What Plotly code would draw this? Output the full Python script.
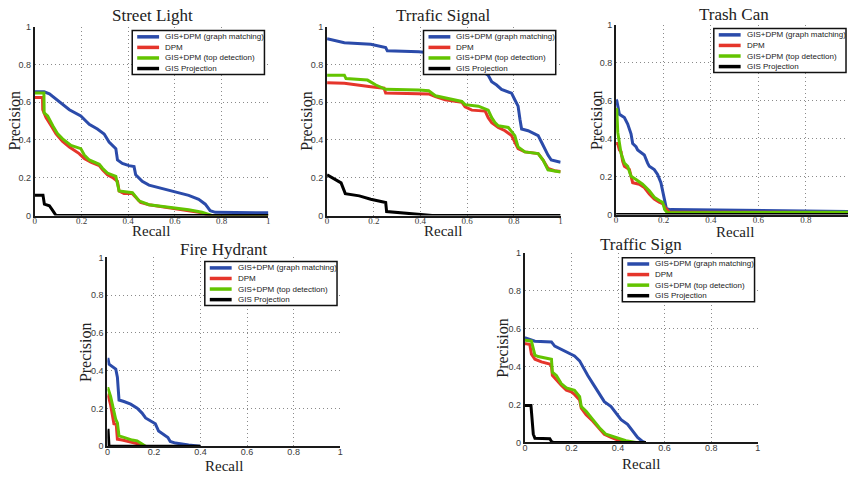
import plotly.graph_objects as go

W, H = 850, 480

# ---------------- data (recall, precision) ----------------
series_names = ["GIS+DPM (graph matching)", "DPM", "GIS+DPM (top detection)", "GIS Projection"]
series_colors = ["#2B4BAA", "#E5352B", "#63C400", "#000000"]
titles = ["Street Light", "Trrafic Signal", "Trash Can", "Fire Hydrant", "Traffic Sign"]
tick_vals = [0, 0.2, 0.4, 0.6, 0.8, 1]
tick_text = ["0", "0.2", "0.4", "0.6", "0.8", "1"]

# Street Light
sl_gm_x = [0, 0.04, 0.0625, 0.105, 0.148, 0.197, 0.233, 0.268, 0.297, 0.318, 0.347, 0.354, 0.375, 0.403, 0.425, 0.432, 0.46, 0.489, 0.531, 0.574, 0.616, 0.659, 0.702, 0.73, 0.751, 0.773, 0.858, 1.0]
sl_gm_y = [0.655, 0.655, 0.644, 0.604, 0.56, 0.527, 0.483, 0.458, 0.432, 0.389, 0.354, 0.294, 0.276, 0.264, 0.259, 0.216, 0.181, 0.161, 0.147, 0.133, 0.121, 0.107, 0.086, 0.06, 0.026, 0.017, 0.016, 0.014]
sl_dpm_x = [0, 0.033, 0.034, 0.048, 0.07, 0.091, 0.119, 0.148, 0.19, 0.212, 0.24, 0.276, 0.29, 0.311, 0.332, 0.354, 0.361, 0.382, 0.418, 0.432, 0.453, 0.489, 0.545, 0.602, 0.659, 0.716, 0.744, 1.0]
sl_dpm_y = [0.625, 0.625, 0.56, 0.518, 0.475, 0.432, 0.392, 0.363, 0.328, 0.302, 0.282, 0.264, 0.242, 0.216, 0.202, 0.181, 0.13, 0.117, 0.116, 0.095, 0.069, 0.057, 0.047, 0.036, 0.026, 0.014, 0.0, 0.0]
sl_top_x = [0, 0.039, 0.04, 0.055, 0.077, 0.098, 0.119, 0.155, 0.197, 0.212, 0.233, 0.276, 0.29, 0.311, 0.347, 0.361, 0.418, 0.446, 0.489, 0.574, 0.659, 0.716, 0.758, 1.0]
sl_top_y = [0.648, 0.648, 0.544, 0.527, 0.475, 0.432, 0.406, 0.371, 0.354, 0.32, 0.294, 0.271, 0.25, 0.225, 0.207, 0.13, 0.121, 0.078, 0.057, 0.043, 0.031, 0.017, 0.0, 0.0]
sl_gis_x = [0, 0.035, 0.041, 0.0625, 0.077, 0.091, 1.0]
sl_gis_y = [0.107, 0.107, 0.06, 0.052, 0.026, 0.0, 0.0]

# Traffic Signal
ts_gm_x = [0, 0.074, 0.187, 0.223, 0.251, 0.258, 0.393, 0.45, 0.55, 0.62, 0.67, 0.69, 0.705, 0.726, 0.747, 0.79, 0.804, 0.818, 0.826, 0.833, 0.861, 0.904, 0.918, 0.932, 0.946, 0.96, 1.0]
ts_gm_y = [0.936, 0.915, 0.907, 0.895, 0.889, 0.872, 0.867, 0.86, 0.84, 0.8, 0.76, 0.743, 0.708, 0.691, 0.668, 0.648, 0.613, 0.579, 0.51, 0.458, 0.449, 0.423, 0.389, 0.354, 0.32, 0.294, 0.282]
ts_dpm_x = [0, 0.074, 0.187, 0.244, 0.251, 0.435, 0.464, 0.506, 0.577, 0.591, 0.62, 0.677, 0.69, 0.705, 0.733, 0.762, 0.79, 0.804, 0.818, 0.847, 0.904, 0.925, 0.946, 0.974, 1.0]
ts_dpm_y = [0.703, 0.70, 0.682, 0.674, 0.648, 0.644, 0.63, 0.613, 0.60, 0.575, 0.558, 0.553, 0.518, 0.492, 0.466, 0.449, 0.423, 0.389, 0.354, 0.337, 0.328, 0.294, 0.25, 0.237, 0.233]
ts_top_x = [0, 0.074, 0.081, 0.173, 0.209, 0.251, 0.393, 0.435, 0.464, 0.506, 0.577, 0.591, 0.648, 0.69, 0.705, 0.719, 0.733, 0.776, 0.804, 0.818, 0.847, 0.904, 0.925, 0.946, 1.0]
ts_top_y = [0.743, 0.743, 0.725, 0.717, 0.691, 0.668, 0.665, 0.661, 0.634, 0.622, 0.604, 0.587, 0.579, 0.558, 0.518, 0.492, 0.475, 0.466, 0.423, 0.363, 0.337, 0.328, 0.294, 0.242, 0.23]
ts_gis_x = [0, 0.024, 0.06, 0.078, 0.138, 0.187, 0.223, 0.251, 0.255, 0.322, 0.393, 0.45, 1.0]
ts_gis_y = [0.216, 0.199, 0.173, 0.116, 0.104, 0.086, 0.078, 0.069, 0.021, 0.014, 0.009, 0.0, 0.0]

# Trash Can
tc_gm_x = [0, 0.003, 0.014, 0.035, 0.049, 0.063, 0.07, 0.084, 0.091, 0.119, 0.133, 0.14, 0.161, 0.175, 0.189, 0.196, 0.203, 0.212, 0.23, 1.0]
tc_gm_y = [0.605, 0.6, 0.528, 0.511, 0.477, 0.425, 0.374, 0.357, 0.34, 0.314, 0.271, 0.254, 0.237, 0.211, 0.168, 0.125, 0.074, 0.031, 0.026, 0.016]
tc_dpm_x = [0, 0.007, 0.014, 0.021, 0.028, 0.035, 0.056, 0.07, 0.098, 0.119, 0.14, 0.161, 0.182, 0.196, 0.21, 0.223, 1.0]
tc_dpm_y = [0.374, 0.374, 0.34, 0.331, 0.28, 0.254, 0.237, 0.168, 0.16, 0.142, 0.108, 0.082, 0.065, 0.057, 0.031, 0.014, 0.01]
tc_top_x = [0, 0.003, 0.007, 0.014, 0.021, 0.028, 0.035, 0.049, 0.063, 0.084, 0.112, 0.14, 0.161, 0.182, 0.196, 0.205, 0.216, 1.0]
tc_top_y = [0.56, 0.554, 0.434, 0.365, 0.322, 0.297, 0.271, 0.254, 0.202, 0.185, 0.16, 0.125, 0.091, 0.074, 0.065, 0.026, 0.01, 0.012]
tc_gis_x = [0, 1.0]
tc_gis_y = [0.0, 0.0]

# Fire Hydrant
fh_gm_x = [0, 0.003, 0.007, 0.036, 0.043, 0.05, 0.071, 0.1, 0.128, 0.149, 0.164, 0.185, 0.206, 0.22, 0.242, 0.26, 0.27, 0.292, 0.349, 0.398]
fh_gm_y = [0.461, 0.461, 0.435, 0.409, 0.366, 0.245, 0.237, 0.223, 0.202, 0.176, 0.15, 0.136, 0.119, 0.081, 0.06, 0.047, 0.026, 0.017, 0.007, 0.0]
fh_dpm_x = [0, 0.003, 0.014, 0.021, 0.028, 0.038, 0.043, 0.064, 0.092, 0.114, 0.135, 0.156]
fh_dpm_y = [0.271, 0.271, 0.219, 0.176, 0.119, 0.116, 0.038, 0.033, 0.026, 0.021, 0.012, 0.0]
fh_top_x = [0, 0.003, 0.014, 0.028, 0.036, 0.043, 0.05, 0.071, 0.107, 0.128, 0.149, 0.164]
fh_top_y = [0.306, 0.306, 0.263, 0.193, 0.142, 0.124, 0.055, 0.047, 0.033, 0.029, 0.012, 0.0]
fh_gis_x = [0, 0.003, 0.007, 0.4]
fh_gis_y = [0.085, 0.085, 0.0, 0.0]

# Traffic Sign
tg_gm_x = [0, 0.003, 0.043, 0.114, 0.128, 0.156, 0.185, 0.213, 0.235, 0.249, 0.27, 0.292, 0.32, 0.341, 0.37, 0.398, 0.413, 0.441, 0.462, 0.484, 0.505, 0.515]
tg_gm_y = [0.551, 0.551, 0.534, 0.53, 0.508, 0.491, 0.47, 0.456, 0.43, 0.396, 0.353, 0.31, 0.258, 0.215, 0.189, 0.146, 0.12, 0.095, 0.06, 0.026, 0.005, 0.0]
tg_dpm_x = [0, 0.003, 0.021, 0.028, 0.043, 0.071, 0.107, 0.114, 0.118, 0.135, 0.156, 0.178, 0.199, 0.213, 0.235, 0.242, 0.263, 0.292, 0.32, 0.341, 0.37, 0.405, 0.434]
tg_dpm_y = [0.521, 0.521, 0.516, 0.465, 0.439, 0.425, 0.413, 0.404, 0.353, 0.327, 0.301, 0.275, 0.267, 0.253, 0.224, 0.181, 0.146, 0.112, 0.069, 0.043, 0.026, 0.009, 0.0]
tg_top_x = [0, 0.003, 0.028, 0.043, 0.057, 0.114, 0.118, 0.135, 0.156, 0.178, 0.213, 0.235, 0.242, 0.263, 0.292, 0.32, 0.348, 0.391, 0.434, 0.477]
tg_top_y = [0.539, 0.539, 0.534, 0.46, 0.453, 0.439, 0.37, 0.353, 0.31, 0.287, 0.275, 0.241, 0.189, 0.164, 0.12, 0.077, 0.043, 0.026, 0.009, 0.0]
tg_gis_x = [0, 0.003, 0.026, 0.036, 0.043, 0.107, 0.114, 0.121, 0.52]
tg_gis_y = [0.194, 0.194, 0.194, 0.043, 0.022, 0.019, 0.005, 0.0, 0.0]

panel_series = [
    [(sl_gm_x, sl_gm_y), (sl_dpm_x, sl_dpm_y), (sl_top_x, sl_top_y), (sl_gis_x, sl_gis_y)],
    [(ts_gm_x, ts_gm_y), (ts_dpm_x, ts_dpm_y), (ts_top_x, ts_top_y), (ts_gis_x, ts_gis_y)],
    [(tc_gm_x, tc_gm_y), (tc_dpm_x, tc_dpm_y), (tc_top_x, tc_top_y), (tc_gis_x, tc_gis_y)],
    [(fh_gm_x, fh_gm_y), (fh_dpm_x, fh_dpm_y), (fh_top_x, fh_top_y), (fh_gis_x, fh_gis_y)],
    [(tg_gm_x, tg_gm_y), (tg_dpm_x, tg_dpm_y), (tg_top_x, tg_top_y), (tg_gis_x, tg_gis_y)],
]

# ---------------- layout geometry (pixels) ----------------
SERIF = "Liberation Serif, Times New Roman, serif"
SANS = "Liberation Sans, Arial, sans-serif"

panels = [
    dict(x0=32, x1=267, y0=22, y1=215, xmax=1.0, leg=(130, 26), title=(150, 11), ylab=(12, 118), xlab=(149, 231), xtf=SERIF),
    dict(x0=326, x1=561, y0=22, y1=215, xmax=1.0, leg=(423, 26), title=(443, 11), ylab=(305, 118), xlab=(443, 231), xtf=SERIF),
    dict(x0=616.7, x1=850, y0=20, y1=214, xmax=0.977, leg=(715, 24), title=(735, 10), ylab=(597, 117), xlab=(736, 232), xtf=SERIF),
    dict(x0=105, x1=339.3, y0=257.7, y1=450.7, xmax=1.0, leg=(203, 262), title=(222, 250), ylab=(83, 355), xlab=(222, 471), xtf=SANS),
    dict(x0=525, x1=759.3, y0=253, y1=446.7, xmax=1.0, leg=(623, 258), title=(642, 245), ylab=(503, 350), xlab=(642, 469), xtf=SANS),
]


def px(x):
    return x / W


def py(y):
    return 1 - y / H


fig = go.Figure()
shapes = []
annotations = []
layout_axes = {}

for i, (p, series) in enumerate(zip(panels, panel_series)):
    n = "" if i == 0 else str(i + 1)
    for (xs, ys), name, col in zip(series, series_names, series_colors):
        fig.add_trace(go.Scatter(
            x=xs, y=ys, mode="lines", name=name, showlegend=False,
            line=dict(color=col, width=3), xaxis="x" + n, yaxis="y" + n,
            hoverinfo="skip",
        ))
    common = dict(
        showgrid=True, gridcolor="#8a8a8a", griddash="1px,3px", gridwidth=1,
        showline=True, linecolor="#1a1a1a", linewidth=2, zeroline=False,
        ticks="", ticklen=0, tickvals=tick_vals, ticktext=tick_text, fixedrange=True,
    )
    layout_axes["xaxis" + n] = dict(
        common, domain=[px(p["x0"]), px(p["x1"])], range=[0, p["xmax"] + 0.0005],
        anchor="y" + n, tickfont=dict(family=p["xtf"], size=9, color="#3a3a3a"),
        ticklabelstandoff=-4,
    )
    layout_axes["yaxis" + n] = dict(
        common, domain=[py(p["y1"]), py(p["y0"])], range=[0, 1.0005],
        anchor="x" + n, tickfont=dict(family=SANS, size=9, color="#3a3a3a"),
    )
    # title and axis labels
    annotations.append(dict(text=titles[i], x=px(p["title"][0]), y=py(p["title"][1]), xref="paper", yref="paper",
                            showarrow=False, xanchor="center", yanchor="middle",
                            font=dict(family=SERIF, size=17, color="#222")))
    annotations.append(dict(text="Precision", x=px(p["ylab"][0]), y=py(p["ylab"][1]), xref="paper", yref="paper",
                            showarrow=False, xanchor="center", yanchor="middle", textangle=-90,
                            font=dict(family=SERIF, size=16, color="#222")))
    annotations.append(dict(text="Recall", x=px(p["xlab"][0]), y=py(p["xlab"][1]), xref="paper", yref="paper",
                            showarrow=False, xanchor="center", yanchor="middle",
                            font=dict(family=SERIF, size=15, color="#222")))
    # legend box
    lx, ly = p["leg"]
    shapes.append(dict(type="rect", xref="paper", yref="paper", x0=px(lx), x1=px(lx + 133), y0=py(ly + 45), y1=py(ly),
                       line=dict(color="#111", width=1.5), fillcolor="white", layer="above"))
    for k, (name, col) in enumerate(zip(series_names, series_colors)):
        yy = ly + 6.5 + 10.8 * k
        shapes.append(dict(type="line", xref="paper", yref="paper", x0=px(lx + 5), x1=px(lx + 27), y0=py(yy), y1=py(yy),
                           line=dict(color=col, width=3.5), layer="above"))
        annotations.append(dict(text=name, x=px(lx + 31), y=py(yy), xref="paper", yref="paper", showarrow=False,
                                xanchor="left", yanchor="middle", font=dict(family=SANS, size=8, color="#222")))

fig.update_layout(
    width=W, height=H, margin=dict(l=0, r=0, t=0, b=0),
    paper_bgcolor="white", plot_bgcolor="white", showlegend=False,
    shapes=shapes, annotations=annotations, **layout_axes,
)

fig.write_html(
    "out.html",
    config={"displayModeBar": False, "staticPlot": True},
    post_script="document.body.style.margin='0';document.body.style.overflow='hidden';",
)
